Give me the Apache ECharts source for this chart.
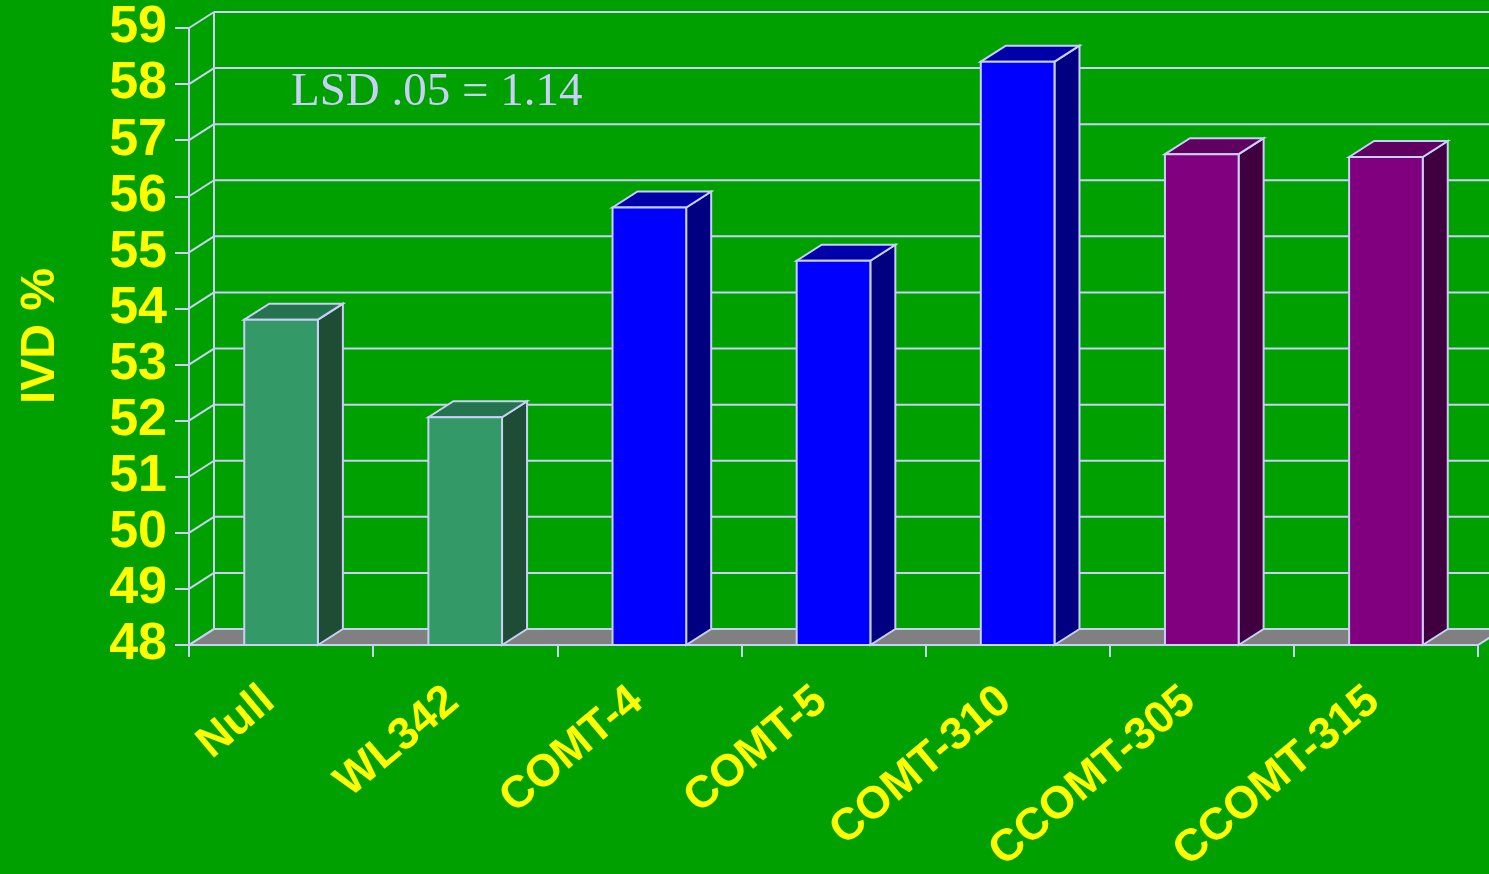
<!DOCTYPE html>
<html>
<head>
<meta charset="utf-8">
<script src="https://cdn.jsdelivr.net/npm/echarts@6/dist/echarts.min.js"></script>
<style>
html,body{margin:0;padding:0;background:#00a000;}
#chart{width:1489px;height:874px;}
</style>
</head>
<body>
<div id="chart"></div>
<script>
// ---- data ----
var categories = ['Null', 'WL342', 'COMT-4', 'COMT-5', 'COMT-310', 'CCOMT-305', 'CCOMT-315'];
var ivdValues = [53.8, 52.06, 55.8, 54.85, 58.4, 56.75, 56.7];
var barGroups = [0, 0, 1, 1, 1, 2, 2]; // colour group of each bar
var yTicks = [48, 49, 50, 51, 52, 53, 54, 55, 56, 57, 58, 59];
var yTitle = 'IVD %';
var noteText = 'LSD .05 = 1.14';

// ---- styles ----
var LINE = '#c8d0f8';
var YELLOW = '#ffff00';
var DX = 25, DY = -16;
var faceColors = ['#339966', '#0000ff', '#800080'];
var topColors  = ['#267350', '#0000a8', '#600060'];
var sideColors = ['#1f4c34', '#000080', '#400040'];

var chart = echarts.init(document.getElementById('chart'));

function wallItem(params, api) {
  var cs = params.coordSys;
  var v = api.value(0);
  var y = api.coord([0, v])[1];
  var x0 = cs.x, x1 = cs.x + cs.width;
  var children = [];
  if (v === yTicks[0]) {
    children.push({
      type: 'polygon',
      shape: { points: [[x0, y], [x0 + DX, y + DY], [x1 + DX, y + DY], [x1, y]] },
      style: { fill: '#808080', stroke: LINE, lineWidth: 2 }
    });
    var yTop = api.coord([0, yTicks[yTicks.length - 1]])[1];
    children.push({
      type: 'line',
      shape: { x1: x0 + DX, y1: yTop + DY, x2: x0 + DX, y2: y + DY },
      style: { stroke: LINE, lineWidth: 2 }
    });
  } else {
    children.push({
      type: 'line',
      shape: { x1: x0 + DX, y1: y + DY, x2: x1 + DX + 40, y2: y + DY },
      style: { stroke: LINE, lineWidth: 2 }
    });
  }
  children.push({
    type: 'line',
    shape: { x1: x0, y1: y, x2: x0 + DX, y2: y + DY },
    style: { stroke: LINE, lineWidth: 2 }
  });
  return { type: 'group', children: children };
}

function barItem(params, api) {
  var i = api.value(0);
  var v = api.value(1);
  var g = api.value(2);
  var base = api.coord([i, yTicks[0]]);
  var top = api.coord([i, v]);
  var hw = api.size([1, 0])[0] * 0.2;
  var xl = base[0] - hw, xr = base[0] + hw;
  var yb = base[1], yt = top[1];
  var st = { stroke: LINE, lineWidth: 2, lineJoin: 'miter' };
  return {
    type: 'group',
    children: [
      { type: 'polygon', shape: { points: [[xr, yb], [xr + DX, yb + DY], [xr + DX, yt + DY], [xr, yt]] },
        style: Object.assign({ fill: sideColors[g] }, st) },
      { type: 'polygon', shape: { points: [[xl, yt], [xl + DX, yt + DY], [xr + DX, yt + DY], [xr, yt]] },
        style: Object.assign({ fill: topColors[g] }, st) },
      { type: 'rect', shape: { x: xl, y: yt, width: xr - xl, height: yb - yt },
        style: Object.assign({ fill: faceColors[g] }, st) }
    ]
  };
}

var option = {
  backgroundColor: '#00a000',
  animation: false,
  grid: { left: 189, right: 11, top: 28, bottom: 229, containLabel: false, outerBoundsMode: 'none' },
  xAxis: {
    type: 'category',
    data: categories,
    boundaryGap: true,
    axisLine: { show: true, lineStyle: { color: LINE, width: 2 } },
    axisTick: { show: true, length: 12, interval: 0, lineStyle: { color: LINE, width: 2 } },
    axisLabel: {
      interval: 0, rotate: 40, margin: 40, padding: [0, 16, 0, 0],
      color: YELLOW, fontSize: 45, fontWeight: 'bold',
      fontFamily: 'Liberation Sans, Arial, sans-serif'
    },
    splitLine: { show: false },
    z: 1
  },
  yAxis: {
    type: 'value',
    min: 48, max: 59, interval: 1,
    axisLine: { show: true, lineStyle: { color: LINE, width: 2 } },
    axisTick: { show: true, length: 14, lineStyle: { color: LINE, width: 2 } },
    axisLabel: {
      margin: 22, color: YELLOW, fontSize: 52, fontWeight: 'bold',
      fontFamily: 'Liberation Sans, Arial, sans-serif'
    },
    splitLine: { show: false }
  },
  graphic: [
    {
      type: 'text', left: 291, top: 69,
      style: { text: noteText, fill: LINE, font: '47px "Liberation Serif", "Times New Roman", serif' }
    },
    {
      type: 'text', x: 41, y: 336, rotation: Math.PI / 2,
      style: { text: yTitle, fill: YELLOW, align: 'center', verticalAlign: 'middle',
               font: 'bold 48px "Liberation Sans", Arial, sans-serif' }
    }
  ],
  series: [
    {
      type: 'custom',
      clip: false,
      renderItem: wallItem,
      data: yTicks.map(function (t) { return [t]; }),
      z: 1
    },
    {
      type: 'custom',
      clip: false,
      renderItem: barItem,
      encode: { x: 0, y: 1 },
      data: categories.map(function (c, i) { return [i, ivdValues[i], barGroups[i]]; }),
      z: 3
    }
  ]
};
chart.setOption(option);
</script>
</body>
</html>
